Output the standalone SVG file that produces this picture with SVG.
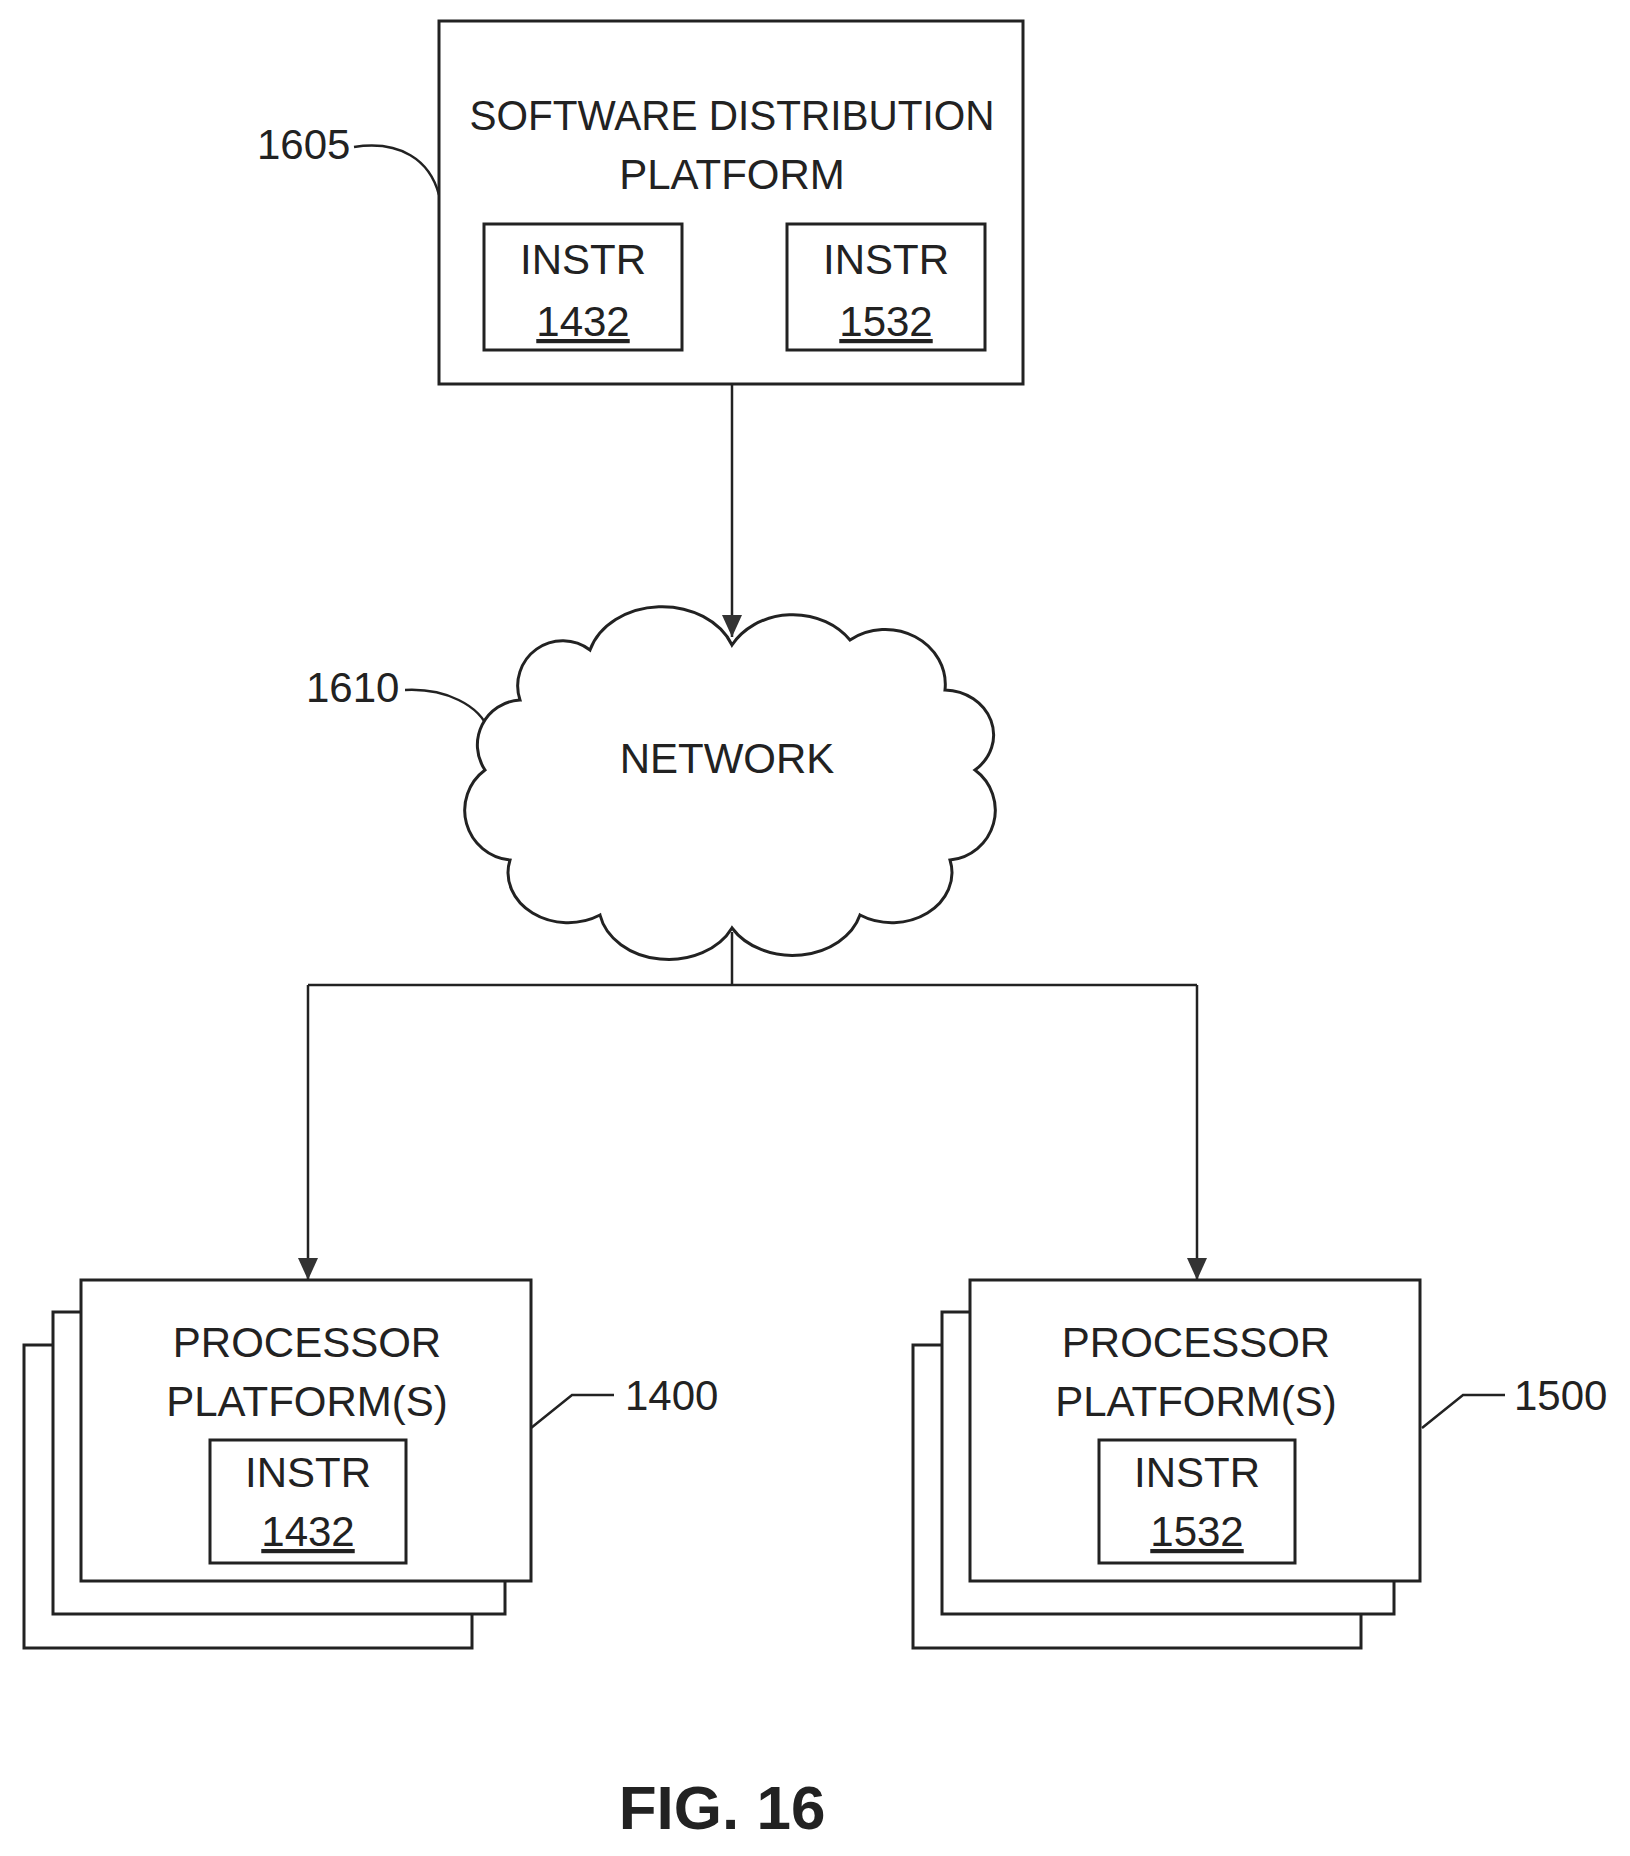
<svg xmlns="http://www.w3.org/2000/svg" width="1630" height="1856" viewBox="0 0 1630 1856">
<style>
.b{fill:#fff;stroke:#222;stroke-width:3}
.l{fill:none;stroke:#222;stroke-width:2.5}
text{font-family:"Liberation Sans",Arial,sans-serif;font-size:42px;fill:#222;text-anchor:middle}
.u{text-decoration:underline}
.r{text-anchor:start}
</style>
<defs>
<marker id="a" markerWidth="22" markerHeight="20" refX="22" refY="10" orient="auto" markerUnits="userSpaceOnUse" viewBox="0 0 22 20">
<path d="M0,0 L22,10 L0,20 Z" fill="#333"/>
</marker>
</defs>
<g id="connectors">
<path class="l" d="M732,384 V637" marker-end="url(#a)"/>
<path class="l" d="M732,932 V985 M308,985 H1197"/>
<path class="l" d="M308,985 V1280" marker-end="url(#a)"/>
<path class="l" d="M1197,985 V1280" marker-end="url(#a)"/>
<path class="l" d="M354,147 C400,140 430,160 439,195"/>
<path class="l" d="M405,690 C445,688 480,705 489,731"/>
<path class="l" d="M531,1428 L572,1395 H614"/>
<path class="l" d="M1422,1428 L1463,1395 H1505"/>
</g>
<g id="sdp">
<rect class="b" x="439" y="21" width="584" height="363"/>
<text x="732" y="130" textLength="525" lengthAdjust="spacingAndGlyphs">SOFTWARE DISTRIBUTION</text>
<text x="732" y="189">PLATFORM</text>
<rect class="b" x="484" y="224" width="198" height="126"/>
<text x="583" y="274">INSTR</text>
<text x="583" y="336" class="u">1432</text>
<rect class="b" x="787" y="224" width="198" height="126"/>
<text x="886" y="274">INSTR</text>
<text x="886" y="336" class="u">1532</text>
<text x="257" y="159" class="r">1605</text>
</g>
<g id="network">
<path class="b" d="M520,700 A45,45 0 0 1 590,650 A75,60 0 0 1 732,645 A70,60 0 0 1 850,640 A60,55 0 0 1 945,690 A50,45 0 0 1 975,770 A50,50 0 0 1 950,860 A60,50 0 0 1 860,915 A70,55 0 0 1 732,928 A70,55 0 0 1 600,915 A60,50 0 0 1 510,860 A50,50 0 0 1 485,770 A45,45 0 0 1 520,700 Z"/>
<text x="727" y="773">NETWORK</text>
<text x="306" y="702" class="r">1610</text>
</g>
<g id="pp1400">
<rect class="b" x="24" y="1345" width="448" height="303"/>
<rect class="b" x="53" y="1312" width="452" height="302"/>
<rect class="b" x="81" y="1280" width="450" height="301"/>
<text x="307" y="1357">PROCESSOR</text>
<text x="307" y="1416">PLATFORM(S)</text>
<rect class="b" x="210" y="1440" width="196" height="123"/>
<text x="308" y="1487">INSTR</text>
<text x="308" y="1546" class="u">1432</text>
<text x="625" y="1410" class="r">1400</text>
</g>
<g id="pp1500">
<rect class="b" x="913" y="1345" width="448" height="303"/>
<rect class="b" x="942" y="1312" width="452" height="302"/>
<rect class="b" x="970" y="1280" width="450" height="301"/>
<text x="1196" y="1357">PROCESSOR</text>
<text x="1196" y="1416">PLATFORM(S)</text>
<rect class="b" x="1099" y="1440" width="196" height="123"/>
<text x="1197" y="1487">INSTR</text>
<text x="1197" y="1546" class="u">1532</text>
<text x="1514" y="1410" class="r">1500</text>
</g>
<text x="722" y="1829" style="font-weight:bold;font-size:62px">FIG. 16</text>
</svg>
